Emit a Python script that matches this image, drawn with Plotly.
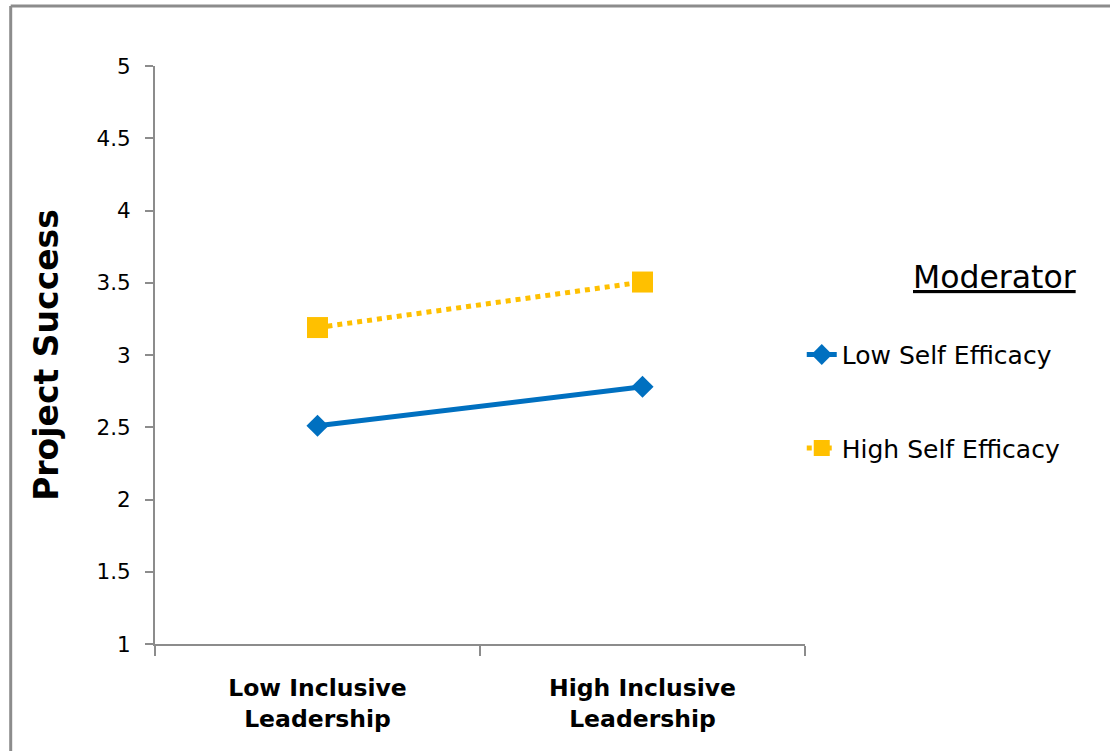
import plotly.graph_objects as go

categories = ["Low Inclusive<br>Leadership", "High Inclusive<br>Leadership"]
low_se = [2.51, 2.78]
high_se = [3.19, 3.505]
series_names = ["Low Self Efficacy", "High Self Efficacy"]
y_ticks = [1, 1.5, 2, 2.5, 3, 3.5, 4, 4.5, 5]
y_ticktext = ["1", "1.5", "2", "2.5", "3", "3.5", "4", "4.5", "5"]

FONT = "DejaVu Sans"
fig = go.Figure()
fig.add_trace(go.Scatter(
    x=categories, y=low_se, name=series_names[0], mode="lines+markers",
    line=dict(color="#0070C0", width=5),
    marker=dict(symbol="diamond", size=17, color="#0070C0"),
    legendgroup="a",
))
fig.add_trace(go.Scatter(
    x=categories, y=high_se, name=series_names[1], mode="lines+markers",
    line=dict(color="#FFC000", width=5, dash="dot"),
    marker=dict(symbol="square", size=21, color="#FFC000"),
    legendgroup="b",
))

fig.update_layout(
    width=1110, height=751,
    margin=dict(l=155, r=305, t=66, b=107),
    paper_bgcolor="white", plot_bgcolor="white",
    font=dict(family=FONT, color="black"),
    showlegend=True,
    legend=dict(
        x=0.995, xanchor="left", y=0.42, yanchor="middle",
        font=dict(size=25, family=FONT, color="black"),
        tracegroupgap=58, bgcolor="rgba(0,0,0,0)",
    ),
    xaxis=dict(
        type="category", range=[-0.5, 1.5], tickson="boundaries",
        showline=True, linecolor="#8c8c8c", linewidth=2,
        ticks="outside", ticklen=10, tickwidth=2, tickcolor="#8c8c8c",
        showgrid=False, zeroline=False, ticklabelstandoff=22,
        tickfont=dict(size=23.5, family=FONT, color="black", weight="bold"),
    ),
    yaxis=dict(
        range=[1, 5], tickvals=y_ticks, ticktext=y_ticktext,
        showline=True, linecolor="#8c8c8c", linewidth=2,
        ticks="outside", ticklen=8, tickwidth=2, tickcolor="#8c8c8c",
        showgrid=False, zeroline=False, ticklabelstandoff=10,
        tickfont=dict(size=21.5, family=FONT, color="black"),
        title=dict(text="Project Success", standoff=28,
                   font=dict(size=33, family=FONT, color="black", weight="bold")),
    ),
)

fig.add_annotation(
    xref="paper", yref="paper", x=1.42, y=0.635, xanchor="right", yanchor="middle",
    text="<u>Moderator</u>", showarrow=False,
    font=dict(size=31.5, family=FONT, color="black"),
)

# outer frame (left and top edges visible)
fig.add_shape(type="line", xref="paper", yref="paper", x0=-0.222, x1=1.5, y0=1.104, y1=1.104,
              line=dict(color="#8c8c8c", width=3))
fig.add_shape(type="line", xref="paper", yref="paper", x0=-0.222, x1=-0.222, y0=-0.25, y1=1.104,
              line=dict(color="#8c8c8c", width=3))

fig.write_html("out.html", config={"displayModeBar": False},
               post_script="document.body.style.margin='0';")
